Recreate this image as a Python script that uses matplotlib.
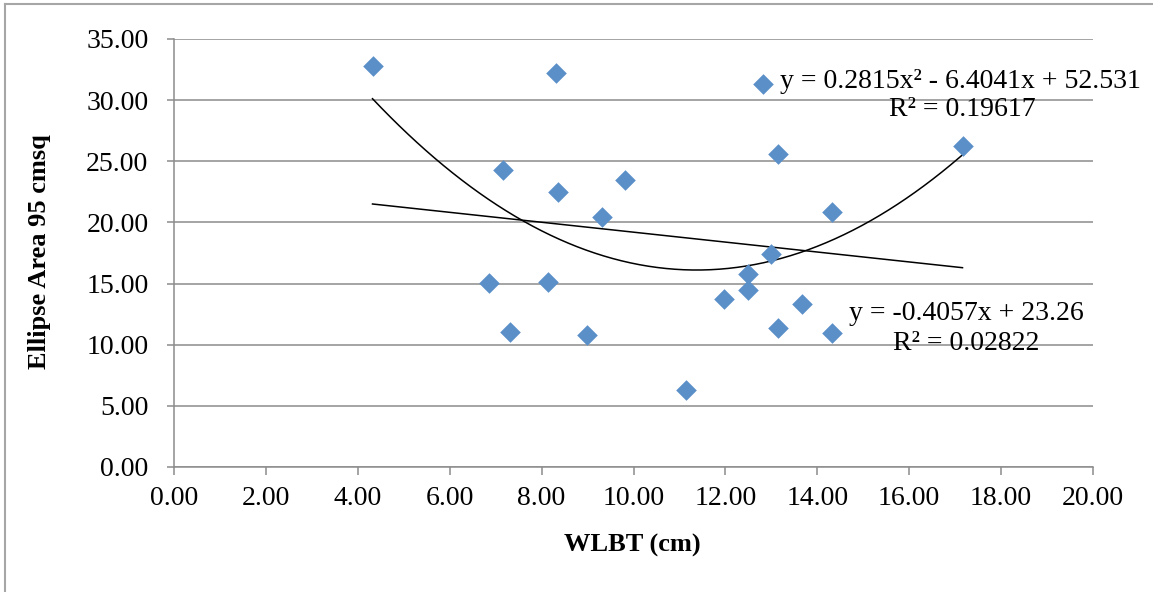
import matplotlib
matplotlib.use("Agg")

import numpy as np
import matplotlib.pyplot as plt
from matplotlib.lines import Line2D

# WLBT (cm) vs ellipse area
wlbt = [4.32, 8.31, 12.82, 17.16, 13.15, 7.17, 9.82, 8.36, 9.32, 14.33, 13.00,
        12.49, 6.86, 8.15, 12.49, 11.98, 13.66, 7.32, 13.15, 8.99, 14.33, 11.15]
area = [32.82, 32.22, 31.34, 26.27, 25.59, 24.30, 23.49, 22.50, 20.48, 20.87, 17.39,
        15.77, 15.03, 15.16, 14.48, 13.75, 13.34, 11.07, 11.40, 10.80, 10.94, 6.30]

# trendline coefficients as printed on the chart
quad_coef = [0.2815, -6.4041, 52.531]
lin_coef = [-0.4057, 23.26]
quad_lines = ["y = 0.2815x² - 6.4041x + 52.531", "R² = 0.19617"]
lin_lines = ["y = -0.4057x + 23.26", "R² = 0.02822"]

x_ticks = np.arange(0, 20.01, 2)
y_ticks = np.arange(0, 35.01, 5)

plt.rcParams["font.family"] = ["Liberation Serif", "DejaVu Serif"]
GRID = "#8c8c8c"
W, H = 1153, 592

fig = plt.figure(figsize=(11.53, 5.92), dpi=100)
ax = fig.add_axes([174 / W, 125 / H, 919 / W, 428 / H])

ax.scatter(wlbt, area, marker="D", s=10.5 ** 2, color="#5b8fc8", zorder=3, linewidths=0)

xs = np.linspace(min(wlbt), max(wlbt), 200)
ax.plot(xs, np.polyval(quad_coef, xs), color="black", lw=1.1, zorder=2)
ax.plot(xs, np.polyval(lin_coef, xs), color="black", lw=1.1, zorder=2)

ax.set_xlim(0, 20)
ax.set_ylim(0, 35)
ax.set_xticks(x_ticks)
ax.set_yticks(y_ticks)
ax.set_xticklabels([f"{v:.2f}" for v in x_ticks])
ax.set_yticklabels([f"{v:.2f}" for v in y_ticks])
ax.tick_params(axis="both", labelsize=20, color=GRID, length=5.4, width=1.1, direction="out")
ax.tick_params(axis="x", pad=8)
ax.tick_params(axis="y", pad=13)

ax.grid(axis="y", color=GRID, lw=1.1)
ax.set_axisbelow(True)
for side in ["top", "right"]:
    ax.spines[side].set_visible(False)
for side in ["left", "bottom"]:
    ax.spines[side].set_color(GRID)
    ax.spines[side].set_linewidth(1.1)

ax.set_xlabel("WLBT (cm)", fontsize=19, fontweight="bold", va="center")
ax.xaxis.set_label_coords((632 - 174) / 919, (467 - 545) / 428)
ax.set_ylabel("Ellipse Area 95 cmsq", fontsize=19, fontweight="bold", va="center")
ax.yaxis.set_label_coords((40 - 174) / 919, (467 - 252) / 428)

# trendline equations, one text per line
for txt, (px, py) in zip(quad_lines + lin_lines,
                         [(960, 81), (962, 110), (966, 314), (966, 343)]):
    fig.text(px / W, 1 - py / H, txt, fontsize=20, ha="center", va="center")

# outer chart frame (left and top edges visible)
fig.add_artist(Line2D([5 / W, 5 / W], [0, 1 - 4 / H], color="#a6a6a6", lw=1.5,
                      transform=fig.transFigure))
fig.add_artist(Line2D([5 / W, 1], [1 - 4 / H, 1 - 4 / H], color="#a6a6a6", lw=1.5,
                      transform=fig.transFigure))

fig.savefig("out.png", dpi=100)
